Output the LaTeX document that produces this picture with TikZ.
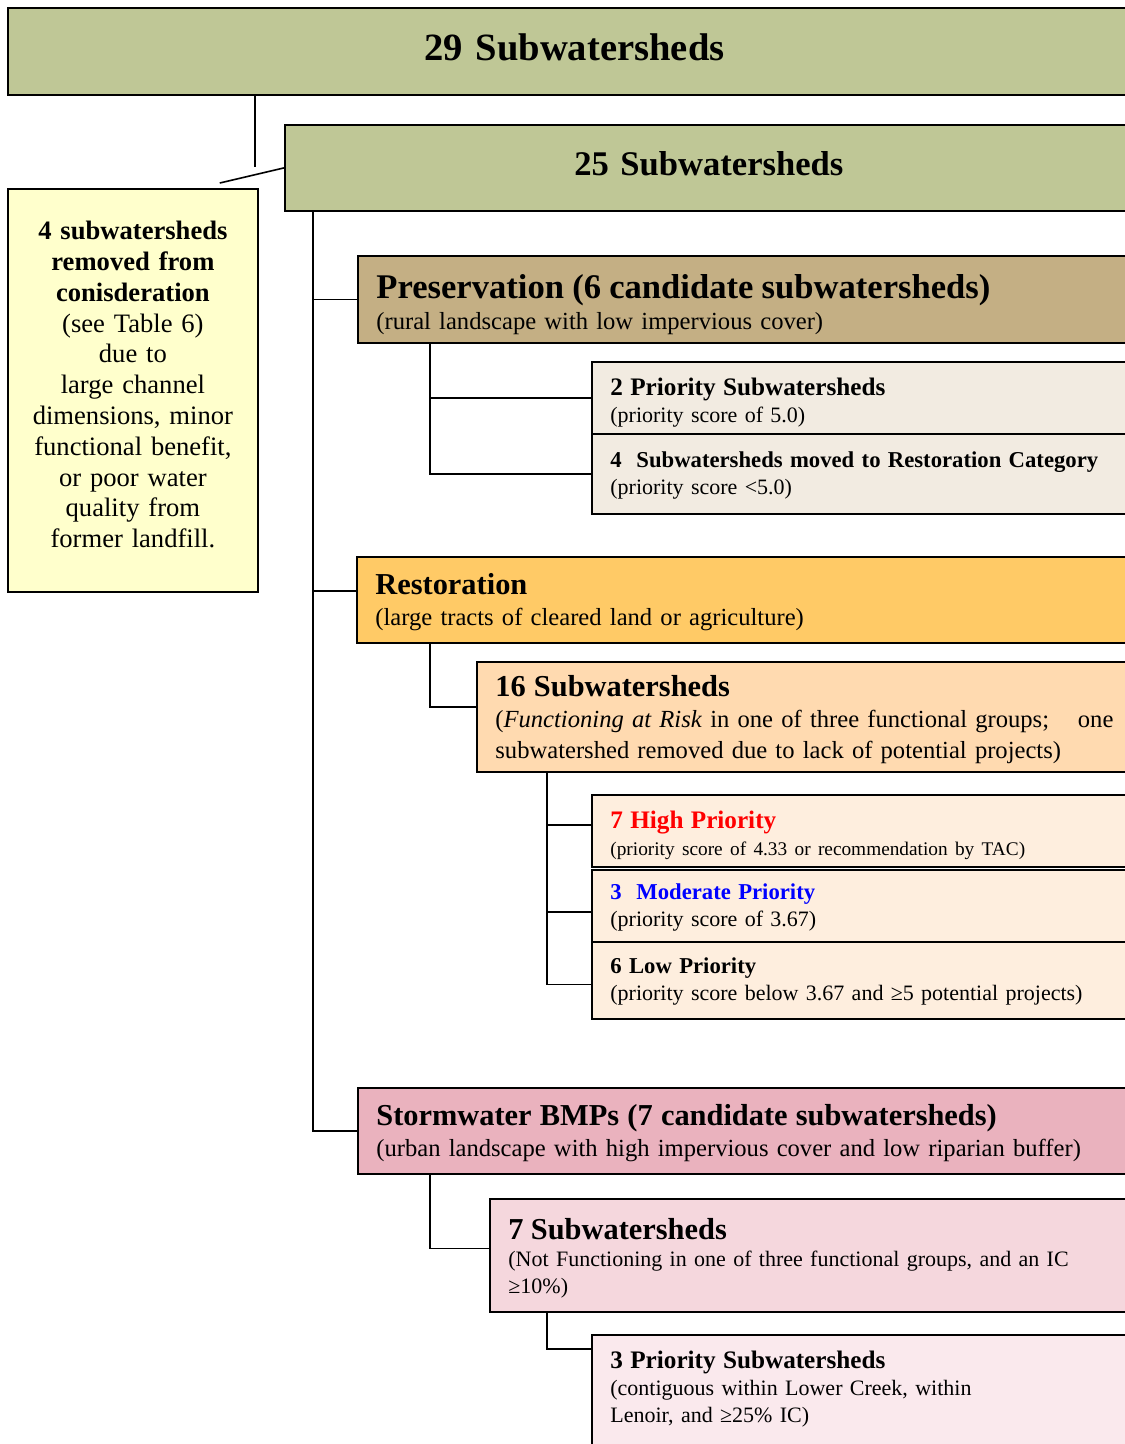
\documentclass[tikz,border=0pt]{standalone}
\usepackage{fontspec}
\setmainfont{Liberation Serif}
\usetikzlibrary{positioning,calc}
\definecolor{sage}{RGB}{191,199,150}
\definecolor{notefill}{RGB}{255,255,204}
\definecolor{tan}{RGB}{196,175,132}
\definecolor{tanlight}{RGB}{242,235,225}
\definecolor{amber}{RGB}{255,202,102}
\definecolor{peach}{RGB}{255,218,176}
\definecolor{peachlight}{RGB}{254,238,222}
\definecolor{rose}{RGB}{234,178,190}
\definecolor{roselight}{RGB}{245,215,221}
\definecolor{rosepale}{RGB}{250,233,237}
\tikzset{
  box/.style={draw, line width=1.8pt, anchor=north west, align=left, inner xsep=18.5pt, inner ysep=0pt},
  link/.style={draw, line width=1.6pt},
  body/.style={font={\fontsize{24.6}{31}\selectfont}},
  small/.style={font={\fontsize{22}{27}\selectfont}}
}
\newcommand{\headA}[1]{{\fontsize{34.6}{36}\selectfont\bfseries\rule{0pt}{34pt}#1}}
\newcommand{\headB}[1]{{\fontsize{30.4}{32}\selectfont\bfseries\rule{0pt}{26pt}#1}}
\newcommand{\headC}[1]{{\fontsize{25.2}{27}\selectfont\bfseries\rule{0pt}{26pt}#1}}
\newcommand{\headD}[1]{{\fontsize{22.7}{27}\selectfont\bfseries\rule{0pt}{18pt}#1}}
\begin{document}
\begin{tikzpicture}[x=1pt, y=-1pt]
    \useasboundingbox (0,0) rectangle (1125,1444);
    % top of the tree
    \node[box, fill=sage, inner xsep=0pt, text width=1133pt, minimum height=87pt, text depth=8pt, align=center, font={\fontsize{38.6}{40}\selectfont\bfseries}] (all) at (7,7) {29 Subwatersheds};
    \node[box, fill=sage, inner xsep=0pt, text width=848pt, minimum height=86pt, text depth=9pt, align=center, font={\fontsize{34.6}{36}\selectfont\bfseries}] (kept) at (284,124) {25 Subwatersheds};
    \node[box, fill=notefill, inner xsep=0pt, text width=250pt, minimum height=403pt, align=center, font={\fontsize{26.6}{30.8}\selectfont}] (removed) at (7,188)
        {\textbf{4 subwatersheds}\\ \textbf{removed from}\\ \textbf{conisderation}\\ (see Table 6)\\ due to\\ large channel\\ dimensions, minor\\ functional benefit,\\ or poor water\\ quality from\\ former landfill.\rule[-12pt]{0pt}{12pt}};
    % preservation
    \node[box, fill=tan, body, text width=746pt, minimum height=87pt] (pres) at (357,255)
        {\headA{Preservation (6 candidate subwatersheds)}\\ (rural landscape with low impervious cover)};
    \node[box, fill=tanlight, small, text width=512pt, minimum height=72pt] (presprio) at (591,361)
        {\headC{2 Priority Subwatersheds}\\ (priority score of 5.0)};
    \node[box, fill=tanlight, small, text width=512pt, minimum height=80pt] (presmoved) at (591,433)
        {\headD{4\ \ Subwatersheds moved to Restoration Category}\\ (priority score <5.0)};
    % restoration
    \node[box, fill=amber, body, text width=747pt, minimum height=86pt] (rest) at (356,556)
        {\headB{Restoration}\\ (large tracts of cleared land or agriculture)};
    \node[box, fill=peach, body, text width=618pt, minimum height=110pt] (restsub) at (476,661)
        {\headB{16 Subwatersheds}\\ (\textit{Functioning at Risk} in one of three functional groups;\hfill one\\ subwatershed removed due to lack of potential projects)};
    \node[box, fill=peachlight, small, text width=512pt, minimum height=72pt] (high) at (591,794)
        {\headC{\color{red}7 High Priority}\\ {\fontsize{19.3}{24}\selectfont(priority score of 4.33 or recommendation by TAC)}};
    \node[box, fill=peachlight, small, text width=512pt, minimum height=72pt] (moderate) at (591,869)
        {\headD{\color{blue}3\ \ Moderate Priority}\\ (priority score of 3.67)};
    \node[box, fill=peachlight, small, text width=512pt, minimum height=77pt] (low) at (591,941)
        {\headD{6 Low Priority}\\ (priority score below 3.67 and ≥5 potential projects)};
    % stormwater
    \node[box, fill=rose, body, text width=746pt, minimum height=86pt] (storm) at (357,1087)
        {\headB{Stormwater BMPs (7 candidate subwatersheds)}\\ (urban landscape with high impervious cover and low riparian buffer)};
    \node[box, fill=roselight, small, text width=614pt, minimum height=113pt] (stormsub) at (489,1198)
        {\headB{7 Subwatersheds}\\ (Not Functioning in one of three functional groups, and an IC\\ ≥10\%)};
    \node[box, fill=rosepale, small, text width=512pt, inner ysep=8pt] (stormprio) at (591,1334)
        {\headC{3 Priority Subwatersheds}\\ (contiguous within Lower Creek, within\\ Lenoir, and ≥25\% IC)\\[60pt]\mbox{}};
    % connectors
    \coordinate (drop) at (255,167);
    \path[link] (drop |- all.south) -- (drop);
    \path[link] ($(removed.north east)+(-39,-5)$) -- (kept.west);
    \coordinate (trunk) at ($(kept.south west)+(29,0)$);
    \path[link] (trunk) |- (pres.west);
    \path[link] (trunk) |- ([yshift=9pt]rest.west);
    \path[link] (trunk) |- (storm.west);
    \coordinate (presfork) at ($(pres.south west)+(73,0)$);
    \path[link] (presfork) |- (presprio.west);
    \path[link] (presfork) |- (presmoved.west);
    \coordinate (restfork) at ($(rest.south west)+(74,0)$);
    \path[link] (restfork) |- ([yshift=10pt]restsub.west);
    \coordinate (subfork) at ($(restsub.south west)+(71,0)$);
    \path[link] (subfork) |- ([yshift=6pt]high.west);
    \path[link] (subfork) |- ([yshift=-6pt]moderate.west);
    \path[link] (subfork) |- ([yshift=-4pt]low.west);
    \coordinate (stormfork) at ($(storm.south west)+(73,0)$);
    \path[link] (stormfork) |- ([yshift=7pt]stormsub.west);
    \coordinate (stormsubfork) at ($(stormsub.south west)+(58,0)$);
    \path[link] (stormsubfork) |- ([yshift=-15pt]stormprio.north west);
\end{tikzpicture}
\end{document}
